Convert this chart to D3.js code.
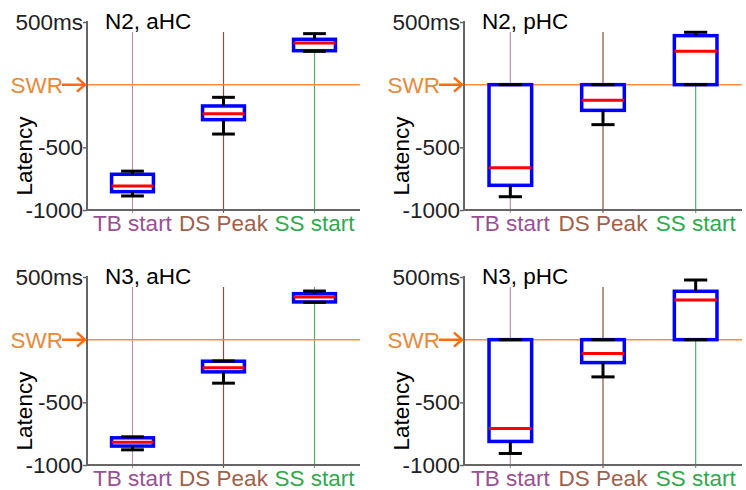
<!DOCTYPE html>
<html>
<head>
<meta charset="utf-8">
<script src="https://cdn.jsdelivr.net/npm/d3@7"></script>
<style>
  body { margin: 0; background: #fff; }
  text { font-family: "Liberation Sans", Arial, sans-serif; }
</style>
</head>
<body>
<div id="chart"></div>
<script>
var categories = ["TB start", "DS Peak", "SS start"];
var panelTitles = ["N2, aHC", "N2, pHC", "N3, aHC", "N3, pHC"];
var yTicks = [500, -500, -1000];
var yTickLabels = ["500ms", "-500", "-1000"];

// box stats per panel, one value per category
var whiskerLow = [[-888, -394, 266], [-894, -319, 0], [-879, -347, 298], [-908, -297, 0]];
var q1 = [[-854, -279, 271], [-803, -205, 0], [-849, -257, 301], [-812, -183, 0]];
var median = [[-809, -232, 332], [-662, -125, 266], [-818, -225, 341], [-709, -111, 317]];
var q3 = [[-715, -170, 362], [0, 0, 391], [-783, -172, 367], [0, 0, 386]];
var whiskerHigh = [[-690, -101, 407], [0, 0, 418], [-775, -170, 388], [0, 0, 476]];

var catColors = ["#9a4f93", "#a0604a", "#2eaa4c"];
var lineColors = ["#b98fb6", "#8e4e36", "#4fb06c"];

var width = 746, height = 490;
var fontSize = "22.5px";

// plot areas: left, right, top, bottom
var layout = [
    {x0: 87, x1: 360, y0: 22, y1: 210},
    {x0: 464, x1: 742, y0: 22, y1: 210},
    {x0: 87, x1: 360, y0: 277, y1: 465},
    {x0: 464, x1: 742, y0: 277, y1: 465}
];

var svg = d3.select("#chart")
    .append("svg")
    .attr("width", width)
    .attr("height", height);

panelTitles.forEach(function (title, p) {
    var L = layout[p];
    var x = d3.scaleLinear().domain([0.5, 3.5]).range([L.x0, L.x1]);
    var y = d3.scaleLinear().domain([-1000, 500]).range([L.y1, L.y0]);
    var g = svg.append("g");

    // category guide lines
    g.selectAll(".guide")
        .data(categories)
        .enter()
        .append("line")
        .attr("x1", function (d, i) { return x(i + 1); })
        .attr("x2", function (d, i) { return x(i + 1); })
        .attr("y1", y(420))
        .attr("y2", L.y1 + 3)
        .attr("stroke", function (d, i) { return lineColors[i]; })
        .attr("stroke-width", 1.2);

    // SWR line
    g.append("line")
        .attr("x1", L.x0).attr("x2", L.x1)
        .attr("y1", y(0)).attr("y2", y(0))
        .attr("stroke", "#ff8c40")
        .attr("stroke-width", 1.5);

    // axes
    var yAxis = d3.axisLeft(y)
        .tickValues(yTicks)
        .tickSize(4)
        .tickFormat(function (d, i) { return yTickLabels[i]; });
    var ya = g.append("g")
        .attr("transform", "translate(" + L.x0 + ",0)")
        .call(yAxis);
    ya.select(".domain").attr("stroke", "#666").attr("stroke-width", 2)
        .attr("d", "M0," + (L.y0 - 1) + "V" + L.y1);
    ya.selectAll(".tick line").attr("stroke", "#666").attr("stroke-width", 1.5);
    ya.selectAll(".tick text")
        .attr("x", -4)
        .attr("fill", "#222")
        .style("font-size", fontSize);

    g.append("line")
        .attr("x1", L.x0 - 1).attr("x2", L.x1)
        .attr("y1", L.y1).attr("y2", L.y1)
        .attr("stroke", "#666")
        .attr("stroke-width", 2);

    // category labels
    g.selectAll(".cat")
        .data(categories)
        .enter()
        .append("text")
        .attr("x", function (d, i) { return x(i + 1); })
        .attr("y", L.y1 + 21)
        .attr("text-anchor", "middle")
        .attr("fill", function (d, i) { return catColors[i]; })
        .style("font-size", fontSize)
        .text(function (d) { return d; });

    // boxes
    var bw = 0.46, cw = 0.25;
    var box = g.selectAll(".box")
        .data(categories)
        .enter()
        .append("g");

    box.append("rect")
        .attr("x", function (d, i) { return x(i + 1 - bw / 2); })
        .attr("width", x(1 + bw) - x(1))
        .attr("y", function (d, i) { return y(q3[p][i]); })
        .attr("height", function (d, i) { return y(q1[p][i]) - y(q3[p][i]); })
        .attr("fill", "#fff")
        .attr("stroke", "#0000ff")
        .attr("stroke-width", 3.5);

    box.append("line")
        .attr("x1", function (d, i) { return x(i + 1 - bw / 2); })
        .attr("x2", function (d, i) { return x(i + 1 + bw / 2); })
        .attr("y1", function (d, i) { return y(median[p][i]); })
        .attr("y2", function (d, i) { return y(median[p][i]); })
        .attr("stroke", "#ff0000")
        .attr("stroke-width", 3);

    [[whiskerHigh, q3], [whiskerLow, q1]].forEach(function (pair) {
        var w = pair[0], edge = pair[1];
        box.append("line")
            .attr("x1", function (d, i) { return x(i + 1); })
            .attr("x2", function (d, i) { return x(i + 1); })
            .attr("y1", function (d, i) { return y(w[p][i]); })
            .attr("y2", function (d, i) { return y(edge[p][i]); })
            .attr("stroke", "#000")
            .attr("stroke-width", 3);
        box.append("line")
            .attr("x1", function (d, i) { return x(i + 1 - cw / 2); })
            .attr("x2", function (d, i) { return x(i + 1 + cw / 2); })
            .attr("y1", function (d, i) { return y(w[p][i]); })
            .attr("y2", function (d, i) { return y(w[p][i]); })
            .attr("stroke", "#000")
            .attr("stroke-width", 3);
    });

    // SWR label with arrow
    var sy = y(0);
    g.append("text")
        .attr("x", L.x0 - 24)
        .attr("y", sy)
        .attr("dy", "0.35em")
        .attr("text-anchor", "end")
        .attr("fill", "#e8893a")
        .style("font-size", fontSize)
        .text("SWR");
    g.append("path")
        .attr("d", "M" + (L.x0 - 25) + "," + sy + "H" + (L.x0 - 2) +
            "M" + (L.x0 - 10) + "," + (sy - 7) + "L" + (L.x0 - 2) + "," + sy +
            "L" + (L.x0 - 10) + "," + (sy + 7))
        .attr("fill", "none")
        .attr("stroke", "#ff6a10")
        .attr("stroke-width", 2.5);

    // y label
    g.append("text")
        .attr("transform", "translate(" + (L.x0 - 55) + "," + (L.y0 + 134) + ") rotate(-90)")
        .attr("text-anchor", "middle")
        .attr("fill", "#000")
        .style("font-size", fontSize)
        .text("Latency");

    // title
    g.append("text")
        .attr("x", L.x0 + 18)
        .attr("y", L.y0 + 7)
        .attr("fill", "#000")
        .style("font-size", fontSize)
        .text(title);
});
</script>
</body>
</html>
